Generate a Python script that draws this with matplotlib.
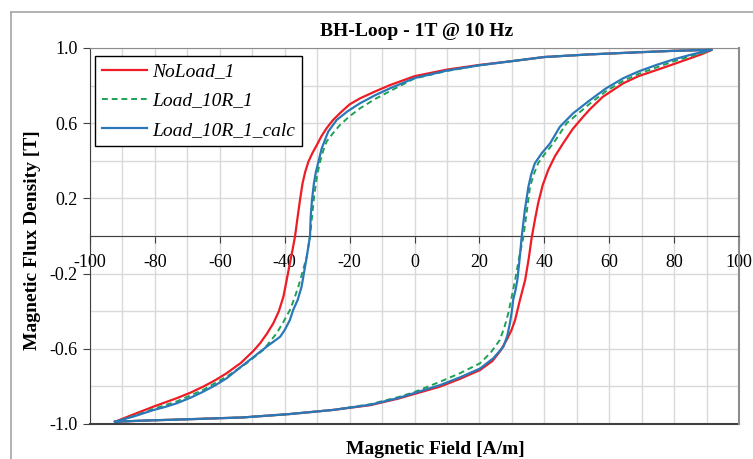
import matplotlib
matplotlib.use('Agg')
import matplotlib.pyplot as plt
from matplotlib.ticker import MultipleLocator, FixedLocator
from matplotlib.lines import Line2D

# BH loop data: each curve starts at -Hmax, rises along the lower branch, returns along the upper one
h_noload = [-92.3, -83.6, -70.2, -52.8, -38.4, -25, -13.7, -5, 0, 7.9, 14, 20.2, 24, 26.5, 28.4, 29.9, 31.0,
            32.5, 34.1, 35.2, 36.1, 37.1, 38.1, 39.5, 41.2, 43.3, 45.8, 48.8, 52.0, 54.1, 58, 64.3, 69, 74.6,
            80, 84.9, 88.5, 91.6,
            80, 70, 54, 40, 30, 20, 10, 0, -7.5, -12, -16.8, -20, -23, -25.2, -27.1, -28.7, -30.1, -31.5,
            -32.7, -33.7, -34.5, -35.3, -36.1, -36.8, -37.6, -38.4, -39.4, -40.4, -41.8, -43.5, -45.5,
            -47.6, -49.7, -53.5, -57.9, -61.5, -65.1, -69, -73.3, -77, -80.5, -86, -92.3]
b_noload = [-0.988, -0.982, -0.975, -0.965, -0.947, -0.925, -0.9, -0.865, -0.84, -0.801, -0.76, -0.713,
            -0.665, -0.61, -0.553, -0.5, -0.447, -0.34, -0.234, -0.12, -0.01, 0.085, 0.174, 0.27, 0.351,
            0.425, 0.493, 0.57, 0.635, 0.675, 0.74, 0.812, 0.85, 0.883, 0.915, 0.945, 0.967, 0.99,
            0.985, 0.978, 0.966, 0.952, 0.93, 0.91, 0.885, 0.85, 0.803, 0.77, 0.732, 0.70, 0.653, 0.615,
            0.573, 0.53, 0.484, 0.44, 0.395, 0.34, 0.28, 0.19, 0.09, 0.0, -0.075, -0.145, -0.235, -0.323,
            -0.4, -0.464, -0.52, -0.571, -0.612, -0.675, -0.73, -0.768, -0.801, -0.833, -0.863, -0.886,
            -0.908, -0.945, -0.988]

h_load = [-92.3, -83.6, -70.2, -52.8, -38.4, -25, -13.7, -5, 0, 7.9, 14, 20.2, 23.5, 26.3, 27.8, 28.9, 30.0,
          31.0, 32.3, 33.5, 34.6, 35.6, 36.8, 38.1, 40.5, 42.8, 46.9, 50, 54.1, 59, 64.3, 69, 74.6, 80,
          84.9, 88.5, 91.6,
          80, 70, 54, 40, 30, 20, 10, 0, -7.5, -12, -16.8, -20, -23, -25.2, -27.1, -28.2, -29.1, -29.8,
          -30.4, -31.0, -31.6, -32.2, -33.2, -35.8, -37.2, -38.4, -40.5, -42.5, -46.6, -52, -57.9, -65.1,
          -73.3, -80.5, -86, -92.3]
b_load = [-0.988, -0.982, -0.975, -0.965, -0.947, -0.925, -0.895, -0.857, -0.83, -0.775, -0.73, -0.677,
          -0.62, -0.553, -0.48, -0.411, -0.32, -0.234, -0.11, -0.01, 0.13, 0.262, 0.33, 0.387, 0.445,
          0.493, 0.6, 0.645, 0.705, 0.77, 0.825, 0.862, 0.897, 0.93, 0.955, 0.972, 0.99,
          0.985, 0.978, 0.966, 0.952, 0.93, 0.908, 0.878, 0.838, 0.771, 0.73, 0.679, 0.637, 0.59, 0.545,
          0.502, 0.45, 0.395, 0.34, 0.28, 0.2, 0.1, 0.0, -0.11, -0.27, -0.34, -0.394, -0.46, -0.518,
          -0.606, -0.68, -0.748, -0.818, -0.88, -0.92, -0.955, -0.988]

h_calc = [-92.3, -83.6, -70.2, -52.8, -38.4, -25, -13.7, -5, 0, 7.9, 14, 20.2, 24.3, 27.4, 28.6, 29.4, 30.0,
          30.4, 31.1, 31.7, 32.4, 33.0, 34.0, 35.1, 36.0, 37.1, 39.2, 41.8, 44.8, 48.9, 54.1, 59, 64.3, 69,
          74.6, 80, 84.9, 88.5, 91.6,
          80, 70, 54, 40, 30, 20, 10, 0, -7.5, -12, -16.8, -20.5, -24.0, -26.6, -28.6, -29.6, -30.4, -31.0,
          -31.6, -32.0, -32.2, -33.2, -34.8, -36.0, -37.4, -38.4, -40.0, -41.4, -45.6, -49.7, -53.8, -57.9,
          -61.5, -65.1, -69, -73.3, -77, -80.5, -86, -92.3]
b_calc = [-0.988, -0.982, -0.975, -0.965, -0.947, -0.925, -0.898, -0.862, -0.835, -0.793, -0.752, -0.705,
          -0.65, -0.589, -0.53, -0.464, -0.40, -0.34, -0.29, -0.234, -0.12, -0.01, 0.138, 0.262, 0.33,
          0.387, 0.44, 0.493, 0.581, 0.653, 0.723, 0.785, 0.839, 0.875, 0.91, 0.94, 0.963, 0.978, 0.99,
          0.985, 0.978, 0.966, 0.952, 0.93, 0.908, 0.88, 0.84, 0.786, 0.75, 0.706, 0.665, 0.617, 0.555,
          0.466, 0.395, 0.34, 0.28, 0.19, 0.1, 0.0, -0.11, -0.27, -0.34, -0.394, -0.447, -0.5, -0.536,
          -0.589, -0.645, -0.7, -0.757, -0.795, -0.828, -0.86, -0.89, -0.91, -0.926, -0.957, -0.988]

x_ticks = [-100, -80, -60, -40, -20, 0, 20, 40, 60, 80, 100]
y_ticks = [-1.0, -0.6, -0.2, 0.2, 0.6, 1.0]

plt.rcParams['font.family'] = 'Liberation Serif'
plt.rcParams['axes.unicode_minus'] = False

fig = plt.figure(figsize=(7.53, 4.59), dpi=100)
ax = fig.add_axes([90 / 753, 1 - 424 / 459, 649 / 753, 376 / 459])

# outer chart frame (left and top edges visible)
frame_col = '#a6a6a6'
fig.add_artist(Line2D([11 / 753, 11 / 753], [0, 1 - 12 / 459], transform=fig.transFigure, color=frame_col, lw=1.2))
fig.add_artist(Line2D([11 / 753, 1], [1 - 12 / 459, 1 - 12 / 459], transform=fig.transFigure, color=frame_col, lw=1.2))

ax.plot(h_noload, b_noload, color='#ee1c25', lw=1.6, label='NoLoad_1', zorder=3)
ax.plot(h_load, b_load, color='#1ea055', lw=1.4, ls=(0, (3, 2)), label='Load_10R_1', zorder=4)
ax.plot(h_calc, b_calc, color='#2a78b8', lw=1.6, label='Load_10R_1_calc', zorder=5)

ax.set_xlim(-100, 100)
ax.set_ylim(-1.0, 1.0)
ax.xaxis.set_major_locator(FixedLocator(x_ticks))
ax.xaxis.set_minor_locator(MultipleLocator(10))
ax.yaxis.set_major_locator(FixedLocator(y_ticks))
ax.yaxis.set_minor_locator(MultipleLocator(0.2))
ax.set_yticklabels([f'{v:.1f}' for v in y_ticks])
ax.grid(which='both', color='#d9d9d9', lw=1.0, zorder=0)
ax.set_axisbelow(True)

ax.spines['bottom'].set_position(('data', 0))
ax.spines['bottom'].set_color('#404040')
ax.spines['left'].set_color('#404040')
ax.spines['top'].set_color('#8c8c8c')
ax.spines['right'].set_color('#8c8c8c')
ax.spines['right'].set_linewidth(1.5)
ax.axhline(-1.0, color='#404040', lw=1.5, clip_on=False, zorder=2)

ax.tick_params(axis='x', which='major', direction='out', length=5, pad=8, labelsize=13, color='#404040')
ax.tick_params(axis='y', which='major', direction='out', length=5, pad=4, labelsize=13, color='#404040')
ax.tick_params(which='minor', length=0)

leg = ax.legend(loc='upper left', bbox_to_anchor=(0.008, 0.979), borderaxespad=0, fancybox=False,
                edgecolor='black', framealpha=1, prop={'style': 'italic', 'size': 14},
                handlelength=2.3, handletextpad=0.3, labelspacing=0.6, borderpad=0.35)
leg.get_frame().set_linewidth(1.0)

fig.text(417 / 753, 1 - 32 / 459, 'BH-Loop - 1T @ 10 Hz', ha='center', va='center', fontsize=14, fontweight='bold')
fig.text(435 / 753, 1 - 450 / 459, 'Magnetic Field [A/m]', ha='center', va='center', fontsize=14, fontweight='bold')
fig.text(33 / 753, 1 - 240 / 459, 'Magnetic Flux Density [T]', ha='center', va='center', rotation=90,
         fontsize=14, fontweight='bold')

fig.savefig('out.png', dpi=100)
